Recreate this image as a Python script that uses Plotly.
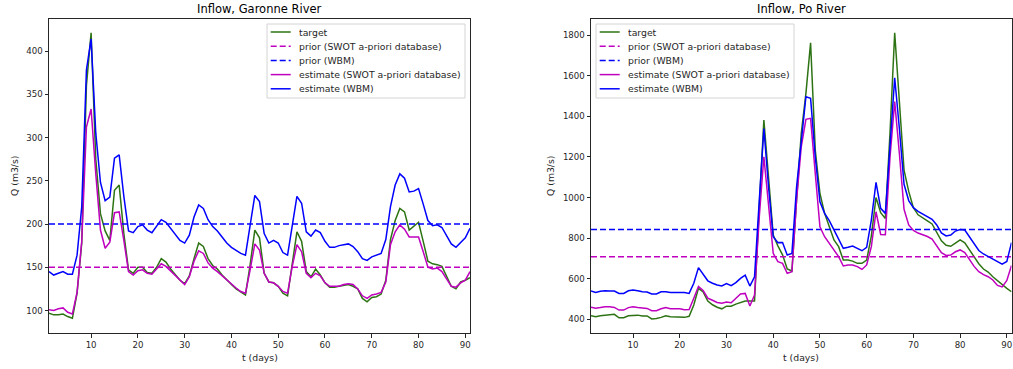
import plotly.graph_objects as go

days = list(range(1, 92))

# Garonne River inflow (m3/s)
garonne_target = [97, 95, 95, 96, 93, 91, 120, 178, 360, 421, 275, 212, 192, 181, 239, 245, 189, 147, 143, 150,
                  150, 144, 143, 150, 160, 156, 148, 142, 135, 131, 140, 160, 178, 174, 160, 152, 148, 141, 135, 130,
                  125, 121, 118, 153, 193, 184, 143, 133, 132, 128, 120, 117, 155, 191, 180, 145, 139, 148, 141, 132,
                  127, 127, 128, 129, 130, 128, 125, 114, 110, 115, 116, 119, 135, 182, 204, 218, 214, 193, 197, 202,
                  180, 157, 154, 153, 151, 140, 128, 125, 133, 135, 138]
garonne_est_swot = [101, 100, 102, 103, 98, 96, 121, 180, 312, 333, 258, 193, 172, 179, 213, 214, 181, 145, 141, 146,
                    147, 143, 142, 148, 154, 151, 146, 141, 135, 130, 139, 157, 169, 166, 155, 149, 145, 140, 135, 130,
                    126, 122, 120, 147, 177, 170, 143, 133, 132, 128, 122, 120, 151, 176, 168, 143, 138, 143, 140, 132,
                    128, 128, 128, 130, 131, 130, 125, 117, 114, 118, 119, 121, 133, 176, 191, 199, 194, 185, 185, 185,
                    168, 150, 148, 149, 145, 137, 128, 127, 132, 135, 145]
garonne_est_wbm = [145, 141, 143, 145, 142, 142, 164, 220, 378, 414, 305, 248, 227, 231, 276, 280, 232, 192, 190, 197,
                   199, 193, 190, 197, 205, 202, 195, 187, 181, 178, 187, 208, 222, 218, 205, 197, 192, 185, 178, 173,
                   169, 166, 164, 197, 233, 226, 189, 178, 181, 178, 167, 164, 198, 232, 224, 191, 186, 193, 190, 180,
                   173, 173, 175, 176, 177, 174, 168, 160, 158, 162, 164, 166, 182, 220, 245, 258, 253, 237, 238, 241,
                   223, 204, 198, 199, 196, 187, 177, 173, 178, 184, 195]
garonne_prior_swot = 150
garonne_prior_wbm = 200

# Po River inflow (m3/s)
po_target = [418, 413, 418, 420, 420, 425, 408, 408, 418, 421, 421, 417, 417, 402, 404, 410, 418, 413, 413, 412,
             410, 415, 471, 553, 535, 490, 472, 460, 452, 465, 465, 475, 483, 490, 490, 490, 950, 1381, 1100, 815,
             762, 718, 648, 638, 988, 1316, 1513, 1762, 1234, 1020, 922, 856, 791, 758, 692, 692, 687, 676, 676, 692,
             810, 1000, 925, 897, 1320, 1811, 1465, 1135, 1030, 950, 915, 898, 885, 870, 830, 787, 765, 760, 776, 791,
             777, 742, 705, 674, 648, 633, 610, 590, 569, 553, 536]
po_est_swot = [460, 455, 458, 462, 462, 459, 446, 446, 458, 462, 459, 456, 454, 443, 443, 452, 458, 453, 453, 452,
               447, 449, 504, 562, 542, 505, 494, 483, 479, 485, 482, 503, 525, 528, 466, 520, 900, 1201, 960, 725,
               684, 676, 627, 635, 988, 1250, 1385, 1390, 1119, 856, 807, 774, 745, 709, 663, 668, 668, 660, 646, 668,
               758, 930, 818, 817, 1200, 1472, 1217, 942, 865, 838, 825, 818, 808, 796, 765, 728, 715, 717, 733, 742,
               729, 696, 661, 635, 620, 610, 594, 567, 560, 592, 665]
po_est_wbm = [540, 533, 538, 541, 540, 540, 528, 528, 541, 545, 541, 536, 535, 525, 525, 536, 536, 532, 532, 532,
              532, 528, 578, 655, 625, 590, 578, 569, 565, 576, 566, 581, 602, 618, 564, 610, 980, 1340, 1053, 807,
              778, 779, 717, 725, 1053, 1260, 1496, 1488, 1201, 979, 922, 886, 840, 799, 750, 755, 761, 750, 738, 755,
              889, 1075, 947, 922, 1260, 1590, 1340, 1065, 985, 950, 932, 920, 906, 893, 865, 826, 811, 815, 835, 843,
              840, 807, 768, 739, 722, 709, 697, 683, 672, 685, 778]
po_prior_swot = 709
po_prior_wbm = 842

series_names = ["target", "prior (SWOT a-priori database)", "prior (WBM)",
                "estimate (SWOT a-priori database)", "estimate (WBM)"]

GREEN = "#2d7314"
MAGENTA = "#bf00bf"
BLUE = "#0000ff"
DASH = "6px,3px"
styles = [(GREEN, "solid"), (MAGENTA, DASH), (BLUE, DASH), (MAGENTA, "solid"), (BLUE, "solid")]

FONT = "DejaVu Sans"
TEXT = "#262626"
W, H = 1013, 369

fig = go.Figure()


def add_panel(xa, ya, target, prior_swot, prior_wbm, est_swot, est_wbm):
    n = len(days)
    values = [target, [prior_swot] * n, [prior_wbm] * n, est_swot, est_wbm]
    for name, y, (color, dash) in zip(series_names, values, styles):
        fig.add_trace(go.Scatter(
            x=days, y=y, mode="lines", name=name,
            line=dict(color=color, width=1.5, dash=dash),
            xaxis=xa, yaxis=ya, showlegend=False,
        ))


add_panel("x", "y", garonne_target, garonne_prior_swot, garonne_prior_wbm,
          garonne_est_swot, garonne_est_wbm)
add_panel("x2", "y2", po_target, po_prior_swot, po_prior_wbm,
          po_est_swot, po_est_wbm)

# panel boxes in pixels: left, right, top, bottom
left_box = (49, 470, 19, 333)
right_box = (591, 1011.5, 19, 333)


def px_x(v):
    return v / W


def px_y(v):
    return 1 - v / H


def xdom(b):
    return [px_x(b[0]), px_x(b[1])]


def ydom(b):
    return [px_y(b[3]), px_y(b[2])]


axis_common = dict(
    showgrid=False, zeroline=False, showline=True, mirror=True,
    linecolor=TEXT, linewidth=1, ticks="outside", ticklen=3.5,
    tickcolor=TEXT, tickwidth=1,
    tickfont=dict(family=FONT, size=8.6, color=TEXT),
)

tick_x = [10, 20, 30, 40, 50, 60, 70, 80, 90]
tick_y_garonne = [100, 150, 200, 250, 300, 350, 400]
tick_y_po = [400, 600, 800, 1000, 1200, 1400, 1600, 1800]

fig.update_layout(
    width=W, height=H,
    margin=dict(l=0, r=0, t=0, b=0),
    paper_bgcolor="white", plot_bgcolor="white",
    font=dict(family=FONT, size=8.6, color=TEXT),
    xaxis=dict(domain=xdom(left_box), anchor="y", range=[1, 91], tickvals=tick_x, **axis_common),
    yaxis=dict(domain=ydom(left_box), anchor="x", range=[74, 437], tickvals=tick_y_garonne, **axis_common),
    xaxis2=dict(domain=xdom(right_box), anchor="y2", range=[1, 91], tickvals=tick_x, **axis_common),
    yaxis2=dict(domain=ydom(right_box), anchor="x2", range=[333, 1879], tickvals=tick_y_po, **axis_common),
    showlegend=False,
)

shapes = []
annotations = []


def legend_box(left, right, top, bottom):
    """Legend frame plus one line sample and label per series."""
    shapes.append(dict(type="rect", xref="paper", yref="paper",
                       x0=px_x(left), x1=px_x(right), y0=px_y(bottom), y1=px_y(top),
                       fillcolor="rgba(255,255,255,0.8)", line=dict(color="#d4d4d4", width=1),
                       layer="above"))
    row0, step = top + 8, 14.2
    for i, (name, (color, dash)) in enumerate(zip(series_names, styles)):
        yy = px_y(row0 + i * step)
        shapes.append(dict(type="line", xref="paper", yref="paper",
                           x0=px_x(left + 3.7), x1=px_x(left + 23.7), y0=yy, y1=yy,
                           line=dict(color=color, width=1.5, dash=dash), layer="above"))
        annotations.append(dict(text=name, x=px_x(left + 30.3), y=yy, xanchor="left",
                                yanchor="middle", font=dict(size=9.3, family=FONT, color=TEXT)))


legend_box(267, 465, 24, 98)
legend_box(596, 794, 24, 98)

annotations += [
    dict(text="Inflow, Garonne River", x=px_x((left_box[0] + left_box[1]) / 2), y=px_y(9.5),
         font=dict(size=11.5, family=FONT, color="#000")),
    dict(text="Inflow, Po River", x=px_x((right_box[0] + right_box[1]) / 2), y=px_y(9.5),
         font=dict(size=11.5, family=FONT, color="#000")),
    dict(text="t (days)", x=px_x((left_box[0] + left_box[1]) / 2), y=px_y(357),
         font=dict(size=9.3, family=FONT, color=TEXT)),
    dict(text="t (days)", x=px_x((right_box[0] + right_box[1]) / 2), y=px_y(357),
         font=dict(size=9.3, family=FONT, color=TEXT)),
    dict(text="Q (m3/s)", x=px_x(15), y=px_y(176), textangle=-90,
         font=dict(size=9.3, family=FONT, color=TEXT)),
    dict(text="Q (m3/s)", x=px_x(551), y=px_y(176), textangle=-90,
         font=dict(size=9.3, family=FONT, color=TEXT)),
]
for a in annotations:
    a.update(xref="paper", yref="paper", showarrow=False)
    a.setdefault("xanchor", "center")
    a.setdefault("yanchor", "middle")

fig.update_layout(shapes=shapes, annotations=annotations)

fig.write_html("out.html")
